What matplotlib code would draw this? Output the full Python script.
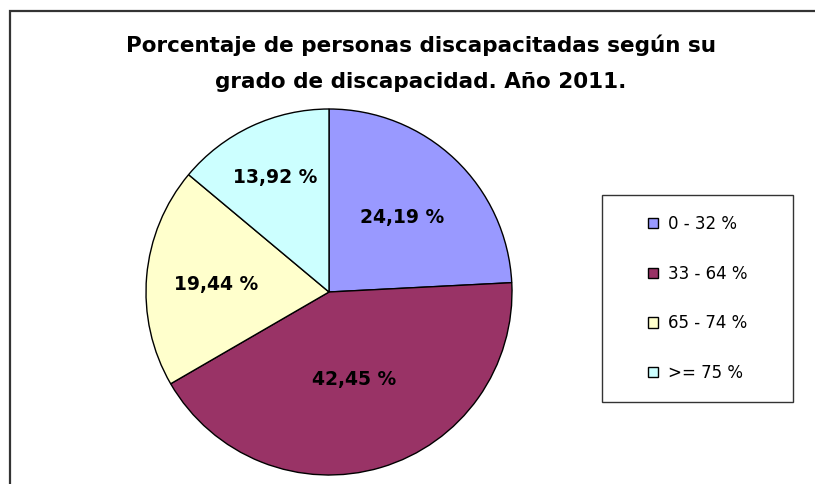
import matplotlib
matplotlib.use("Agg")
import numpy as np
import matplotlib.pyplot as plt
from matplotlib.patches import Rectangle

title_lines = ["Porcentaje de personas discapacitadas según su",
               "grado de discapacidad. Año 2011."]
categories = ["0 - 32 %", "33 - 64 %", "65 - 74 %", ">= 75 %"]
values = [24.19, 42.45, 19.44, 13.92]
colors = ["#9999FF", "#993366", "#FFFFCC", "#CCFFFF"]
label_dist = [0.58, 0.49, 0.62, 0.70]   # radial placement of the value labels (style)

W, H = 815, 484
fig = plt.figure(figsize=(W / 100, H / 100), dpi=100)
fig.patch.set_facecolor("white")

# outer chart frame
fig.patches.append(Rectangle((10 / W, -0.2), 1.5, 1 - 11 / H + 0.2,
                             transform=fig.transFigure, fill=False,
                             edgecolor="#333333", linewidth=1.6, clip_on=False))

# title
fig.text(421 / W, 1 - 52 / H, title_lines[0], ha="center", va="baseline",
         fontsize=15.5, fontweight="bold")
fig.text(421 / W, 1 - 88 / H, title_lines[1], ha="center", va="baseline",
         fontsize=15.5, fontweight="bold")

# pie
cx, cy, r = 329, 292, 183
ax = fig.add_axes([(cx - r) / W, (H - cy - r) / H, 2 * r / W, 2 * r / H])
wedges, texts, autotexts = ax.pie(
    values, colors=colors, startangle=90, counterclock=False,
    wedgeprops=dict(edgecolor="black", linewidth=1.0),
    autopct=lambda p: ("%.2f %%" % p).replace(".", ","),
    pctdistance=0.62,
    textprops=dict(fontsize=13.5, fontweight="bold", color="black"))
for w, t, d in zip(wedges, autotexts, label_dist):
    mid = np.deg2rad((w.theta1 + w.theta2) / 2)
    t.set_position((d * np.cos(mid), d * np.sin(mid)))
    t.set_va("center_baseline")
ax.set_xlim(-1.0, 1.0)
ax.set_ylim(-1.0, 1.0)
ax.axis("off")

# legend box
lx0, ly0, lx1, ly1 = 602, 195, 793, 402
fig.patches.append(Rectangle((lx0 / W, 1 - ly1 / H), (lx1 - lx0) / W, (ly1 - ly0) / H,
                             transform=fig.transFigure, fill=True, facecolor="white",
                             edgecolor="#333333", linewidth=1.0, zorder=5))
leg = fig.legend(wedges, categories, loc="center",
                 bbox_to_anchor=((lx0 + lx1) / 2 / W, 1 - (ly0 + ly1) / 2 / H),
                 frameon=False, fontsize=12, labelspacing=1.9,
                 handlelength=0.6, handleheight=0.6, handletextpad=0.6)
leg.set_zorder(6)

fig.savefig("out.png", dpi=100, facecolor="white")
